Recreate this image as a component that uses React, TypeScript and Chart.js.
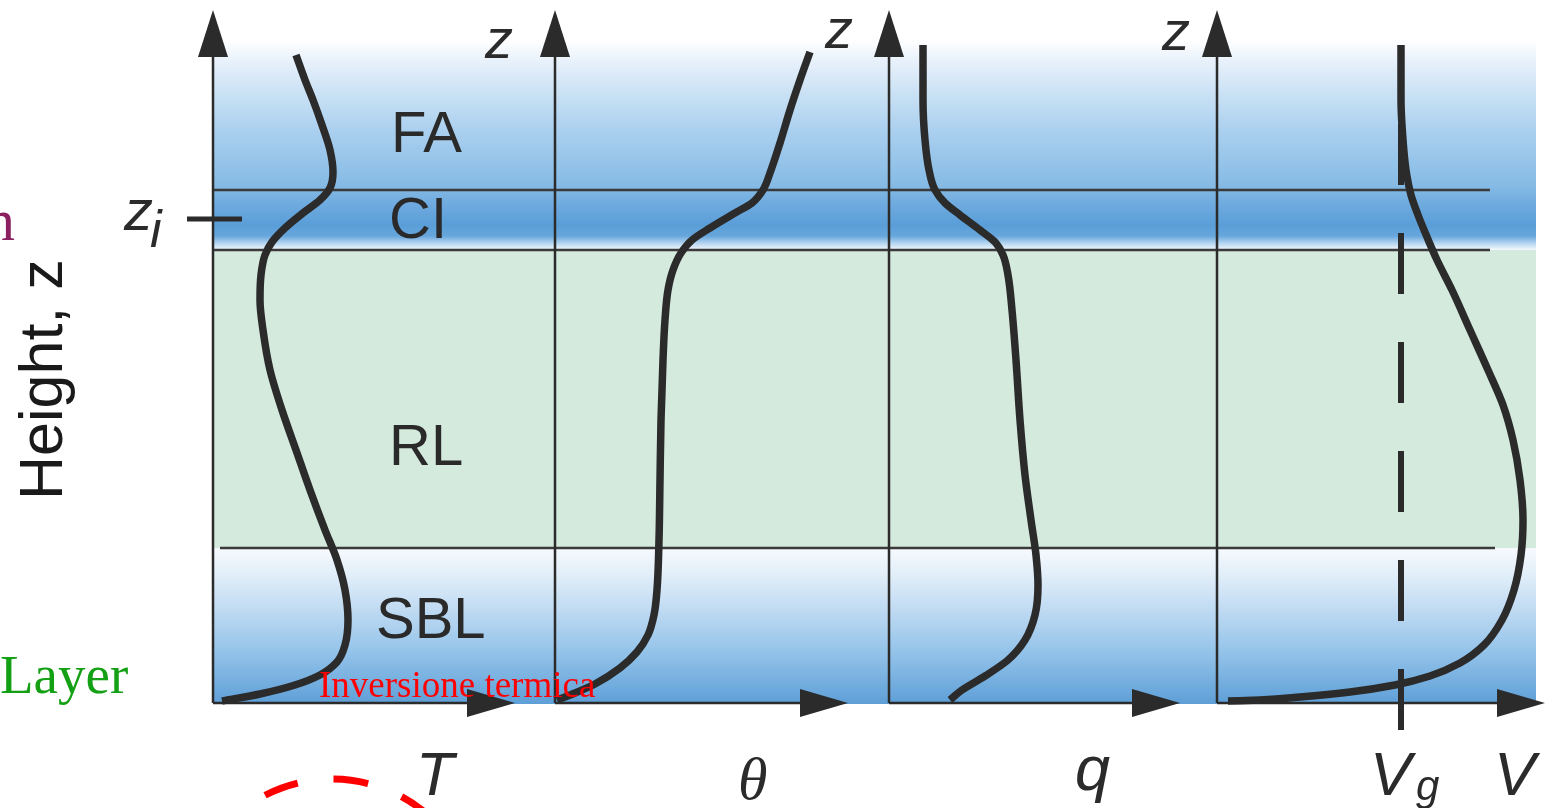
import React, { useEffect, useRef } from "react";
import { Chart, registerables } from "chart.js";

Chart.register(...registerables);

// ---------------- DATA ----------------
// Units: x = profile value measured from each panel's own axis (arbitrary units),
//        z = height above the ground (arbitrary units).
const panelLabels = ["T", "θ", "q", "V"];
const layerLabels = ["FA", "CI", "RL", "SBL"];

// layer boundaries (height)
const zFreeAtmosphereBase = 51.3;
const zCappingInversionBase = 45.3;
const zSurfaceLayerTop = 15.5;
const zInversionHeight = 48.4; // z_i
const geostrophicWind = 18.4; // V_g on the V axis

// temperature profile T(z)
const tX = [8.3, 9.2, 10.0, 10.9, 11.7, 12.0, 11.7, 10.7, 9.0, 7.2, 5.9, 5.2, 4.8, 4.7, 5.0, 5.7, 6.9, 8.3, 9.7, 11.2, 12.4, 13.2, 13.5, 13.2, 12.4, 10.7, 8.2, 4.7, 0.9];
const tZ = [64.8, 62.3, 60.3, 57.8, 55.3, 53.1, 51.5, 50.3, 49.0, 47.5, 46.1, 44.8, 42.8, 40.3, 37.3, 33.3, 29.3, 25.3, 21.3, 17.3, 14.3, 11.3, 8.3, 5.8, 4.1, 2.8, 1.8, 0.9, 0.2];

// potential temperature profile θ(z)
const thetaX = [25.5, 24.5, 23.5, 22.5, 21.5, 20.8, 19.7, 18.0, 15.5, 13.7, 12.6, 11.8, 11.3, 11.0, 10.8, 10.6, 10.5, 10.4, 10.2, 9.9, 9.3, 8.2, 6.5, 4.0, 2.0, 0.2];
const thetaZ = [65.1, 62.3, 59.3, 56.0, 53.0, 51.3, 50.0, 49.0, 47.5, 46.3, 45.0, 43.3, 41.3, 38.3, 34.3, 28.3, 22.3, 16.3, 11.3, 8.8, 6.8, 5.1, 3.5, 1.9, 1.0, 0.3];

// specific humidity profile q(z)
const qX = [3.4, 3.4, 3.6, 4.0, 4.6, 5.6, 7.1, 9.1, 10.6, 11.4, 11.9, 12.3, 12.7, 13.1, 13.6, 14.2, 14.7, 14.9, 14.6, 13.6, 11.9, 9.6, 7.3, 6.1];
const qZ = [65.8, 60.3, 56.3, 53.3, 51.3, 50.0, 48.8, 47.3, 46.1, 44.8, 42.8, 39.3, 34.3, 28.3, 22.8, 18.3, 14.8, 11.8, 8.8, 6.3, 4.3, 2.7, 1.3, 0.3];

// wind speed profile V(z)
const vX = [18.4, 18.4, 18.6, 18.9, 19.4, 20.1, 21.0, 22.0, 23.5, 25.3, 27.1, 28.6, 29.6, 30.3, 30.6, 30.4, 29.7, 28.5, 26.7, 24.3, 21.3, 17.8, 13.3, 8.3, 4.3, 1.1];
const vZ = [65.8, 60.3, 56.3, 53.3, 50.8, 48.8, 46.6, 44.3, 41.3, 37.3, 33.3, 29.8, 26.3, 22.3, 18.3, 14.8, 11.3, 8.3, 5.8, 4.0, 2.7, 1.8, 1.1, 0.6, 0.3, 0.2];

// geostrophic wind reference line extent (height)
const vgZ = [-2.7, 65.8];

// ---------------- LAYOUT (diagram units) ----------------
const panelOriginX = [21.3, 55.5, 88.9, 121.7];
const axisLengthX = [30.2, 29.3, 29.1, 32.8];
const axisTopZ = 69.3;
const X_MIN = 0, X_MAX = 155.3, Z_MIN = -10.5, Z_MAX = 70.3;

const INK = "#2b2b2b";
const SANS = "'Liberation Sans', Arial, Helvetica, sans-serif";
const SERIF = "'Liberation Serif', 'Times New Roman', serif";

const diagramPlugin = {
  id: "diagram",
  beforeDatasetsDraw(chart: any) {
    const { ctx } = chart;
    const X = (v: number) => chart.scales.x.getPixelForValue(v);
    const Y = (v: number) => chart.scales.y.getPixelForValue(v);
    ctx.save();
    const left = X(panelOriginX[0]);
    const right = X(153.6);

    // upper blue band (free atmosphere + capping inversion)
    const yTop = Y(66.3);
    const yRL = Y(zCappingInversionBase);
    const g1 = ctx.createLinearGradient(0, yTop, 0, yRL);
    const s1: [number, string][] = [
      [0, "#ffffff"], [0.095, "#e9f2fb"], [0.238, "#cde3f5"], [0.429, "#abd0ef"],
      [0.69, "#86bbe5"], [0.786, "#6eaadf"], [0.881, "#5a9ed8"], [0.933, "#66a6dc"],
      [0.971, "#bcd9f1"], [1, "#f4f9fd"],
    ];
    s1.forEach(([o, c]) => g1.addColorStop(o, c));
    ctx.fillStyle = g1;
    ctx.fillRect(left, yTop, right - left, yRL - yTop);

    // residual layer (green)
    const ySBL = Y(zSurfaceLayerTop);
    ctx.fillStyle = "#d4eadd";
    ctx.fillRect(left, yRL, right - left, ySBL - yRL);

    // stable boundary layer band
    const yGround = Y(-0.1);
    const g2 = ctx.createLinearGradient(0, ySBL, 0, yGround);
    const s2: [number, string][] = [
      [0, "#f7fafd"], [0.174, "#e1eef9"], [0.4, "#bfdaf2"], [0.658, "#95c4ea"], [1, "#5e9fd7"],
    ];
    s2.forEach(([o, c]) => g2.addColorStop(o, c));
    ctx.fillStyle = g2;
    ctx.fillRect(left, ySBL, right - left, yGround - ySBL);

    // layer boundary lines
    ctx.strokeStyle = "#3a3a3a";
    ctx.lineWidth = 2.5;
    const hl = (x0: number, x1: number, z: number) => {
      ctx.beginPath();
      ctx.moveTo(X(x0), Y(z));
      ctx.lineTo(X(x1), Y(z));
      ctx.stroke();
    };
    hl(panelOriginX[0], 149.0, zFreeAtmosphereBase);
    hl(panelOriginX[0], 149.0, zCappingInversionBase);
    hl(22.0, 149.5, zSurfaceLayerTop);

    // axes
    ctx.strokeStyle = INK;
    ctx.fillStyle = INK;
    ctx.lineWidth = 2.5;
    panelOriginX.forEach((ox, i) => {
      const x0 = X(ox);
      const y0 = Y(0);
      const yTip = Y(axisTopZ);
      ctx.beginPath();
      ctx.moveTo(x0, y0);
      ctx.lineTo(x0, yTip + 40);
      ctx.stroke();
      ctx.beginPath();
      ctx.moveTo(x0, yTip);
      ctx.lineTo(x0 - 15, yTip + 47);
      ctx.lineTo(x0 + 15, yTip + 47);
      ctx.closePath();
      ctx.fill();

      const xTip = X(ox + axisLengthX[i]);
      ctx.beginPath();
      ctx.moveTo(x0, y0);
      ctx.lineTo(xTip - 40, y0);
      ctx.stroke();
      ctx.beginPath();
      ctx.moveTo(xTip, y0);
      ctx.lineTo(xTip - 48, y0 - 14);
      ctx.lineTo(xTip - 48, y0 + 14);
      ctx.closePath();
      ctx.fill();
    });

    // z_i tick
    ctx.lineWidth = 5;
    ctx.beginPath();
    ctx.moveTo(X(18.7), Y(zInversionHeight));
    ctx.lineTo(X(24.2), Y(zInversionHeight));
    ctx.stroke();
    ctx.restore();
  },
  afterDatasetsDraw(chart: any) {
    const { ctx } = chart;
    const X = (v: number) => chart.scales.x.getPixelForValue(v);
    const Y = (v: number) => chart.scales.y.getPixelForValue(v);
    const text = (s: string, x: number, z: number, font: string, color = INK) => {
      ctx.font = font;
      ctx.fillStyle = color;
      ctx.textAlign = "left";
      ctx.textBaseline = "alphabetic";
      ctx.fillText(s, X(x), Y(z));
    };
    ctx.save();

    // layer names
    const layerPos = [[39.1, 55.1], [38.9, 46.5], [38.9, 23.8], [37.6, 6.5]];
    layerLabels.forEach((s, i) => text(s, layerPos[i][0], layerPos[i][1], `58px ${SANS}`, "#2a2a2a"));

    // z labels on top of axes
    text("z", 48.5, 64.5, `italic 56px ${SANS}`);
    text("z", 82.5, 65.5, `italic 56px ${SANS}`);
    text("z", 116.2, 65.3, `italic 56px ${SANS}`);

    // z_i
    text("z", 12.4, 47.3, `italic 58px ${SANS}`);
    text("i", 15.0, 45.6, `italic 52px ${SANS}`);

    // axis variables
    text(panelLabels[0], 41.6, -9.2, `italic 62px ${SANS}`);
    text(panelLabels[1], 73.8, -9.6, `italic 60px ${SERIF}`);
    text(panelLabels[2], 107.5, -8.7, `italic 63px ${SANS}`);
    text("V", 137.0, -9.2, `italic 62px ${SANS}`);
    text("g", 141.6, -9.7, `italic 42px ${SANS}`);
    text(panelLabels[3], 149.4, -9.2, `italic 62px ${SANS}`);

    // Height, z (vertical)
    ctx.save();
    ctx.translate(X(6.2), Y(20.3));
    ctx.rotate(-Math.PI / 2);
    ctx.font = `61px ${SANS}`;
    ctx.fillStyle = "#1a1a1a";
    ctx.textAlign = "left";
    ctx.textBaseline = "alphabetic";
    ctx.fillText("Height, z", 0, 0);
    ctx.restore();

    // overlaid annotation fragments
    text("n", -1.5, 46.3, `60px ${SERIF}`, "#8b2060");
    text("Layer", 0, 1.0, `55px ${SERIF}`, "#14a014");
    text("Inversione termica", 31.9, 0.6, `37px ${SERIF}`, "#ff0000");

    // red dashed circle
    const cx = X(33.2), cy = Y(-22.2);
    const r = X(33.2 + 14.6) - cx;
    const a0 = (-117.3 * Math.PI) / 180;
    ctx.strokeStyle = "#ff0000";
    ctx.lineWidth = 7;
    ctx.setLineDash([35, 36]);
    ctx.beginPath();
    ctx.arc(cx, cy, r, a0, a0 + Math.PI * 2);
    ctx.stroke();
    ctx.restore();
  },
};

function profile(xs: number[], zs: number[], panel: number) {
  return {
    type: "line",
    indexAxis: "y",
    data: xs.map((v, i) => ({ x: v + panelOriginX[panel], y: zs[i] })),
    borderColor: INK,
    borderWidth: 7.5,
    pointRadius: 0,
    fill: false,
    cubicInterpolationMode: "monotone",
    borderJoinStyle: "round",
    borderCapStyle: "butt",
    clip: false,
  };
}

export default function App() {
  const ref = useRef<HTMLCanvasElement | null>(null);
  useEffect(() => {
    document.body.style.margin = "0";
    const canvas = ref.current!;
    const chart = new Chart(canvas, {
      type: "line",
      data: {
        datasets: [
          {
            type: "line",
            indexAxis: "y",
            data: vgZ.map((z) => ({ x: geostrophicWind + panelOriginX[3], y: z })),
            borderColor: INK,
            borderWidth: 6,
            borderDash: [61, 48],
            pointRadius: 0,
            fill: false,
            clip: false,
          } as any,
          profile(tX, tZ, 0) as any,
          profile(thetaX, thetaZ, 1) as any,
          profile(qX, qZ, 2) as any,
          profile(vX, vZ, 3) as any,
        ],
      },
      options: {
        responsive: false,
        animation: false,
        devicePixelRatio: 1,
        events: [],
        layout: { padding: 0 },
        plugins: { legend: { display: false }, tooltip: { enabled: false } },
        scales: {
          x: { type: "linear", min: X_MIN, max: X_MAX, display: false },
          y: { type: "linear", min: Z_MIN, max: Z_MAX, display: false },
        },
      },
      plugins: [diagramPlugin],
    });
    return () => chart.destroy();
  }, []);
  return (
    <div style={{ position: "absolute", left: 0, top: 0, width: 1553, height: 808, background: "#fff" }}>
      <canvas ref={ref} width={1553} height={808} />
    </div>
  );
}
